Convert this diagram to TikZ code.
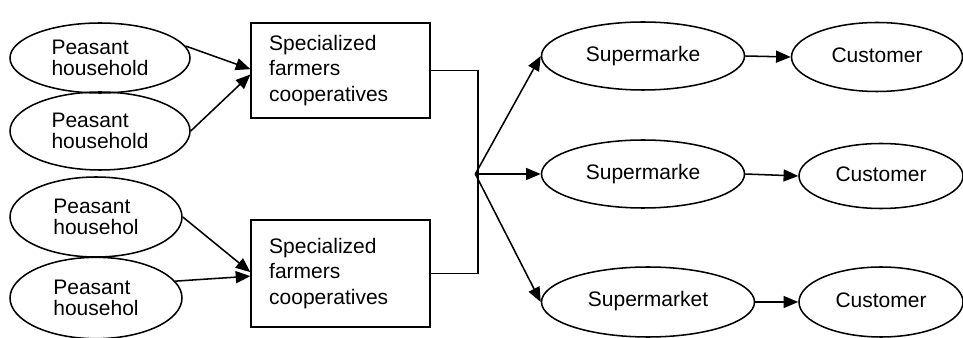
\documentclass[tikz,border=0pt]{standalone}
\usepackage{fontspec}
\setmainfont{Liberation Sans}
\usetikzlibrary{arrows.meta,shapes.geometric}

\begin{document}
\begin{tikzpicture}[x=0.75pt,y=-0.75pt,line width=1.15pt]

	\tikzstyle peasant node=[draw, ellipse, inner sep=0pt, align=left, font=\fontsize{15.75}{16.3}\selectfont];
	\tikzstyle coop node=[draw, rectangle, inner xsep=13.5pt, inner ysep=0pt, text width=107pt, align=left, font=\fontsize{15.75}{19}\selectfont];
	\tikzstyle market node=[draw, ellipse, inner sep=0pt, font=\fontsize{15.75}{16.3}\selectfont];
	\tikzstyle flow arrows=[-{Triangle[length=11pt,width=9pt]}];

	\useasboundingbox (0,0) rectangle (963,338);

	% peasant households
	\node[peasant node, minimum width=135pt, minimum height=52.5pt] (ph1) at (100,58) {Peasant\\household};
	\node[peasant node, minimum width=135pt, minimum height=58.5pt] (ph2) at (100,131) {Peasant\\household};
	\node[peasant node, minimum width=129pt, minimum height=60pt] (ph3) at (96,217) {Peasant\\househol};
	\node[peasant node, minimum width=129pt, minimum height=61pt] (ph4) at (96,298) {Peasant\\househol};

	% cooperatives
	\node[coop node, minimum height=71.25pt] (coop1) at (340.5,70.5) {Specialized\\farmers\\cooperatives};
	\node[coop node, minimum height=80.25pt] (coop2) at (340.5,273.5) {Specialized\\farmers\\cooperatives};

	% supermarkets and customers
	\node[market node, minimum width=152.25pt, minimum height=51pt] (sm1) at (643,56) {\raisebox{3pt}{Supermarke}};
	\node[market node, minimum width=152.25pt, minimum height=51pt] (sm2) at (643,174) {\raisebox{3pt}{Supermarke}};
	\node[market node, minimum width=159.75pt, minimum height=52.5pt] (sm3) at (648,302) {\raisebox{4pt}{Supermarket}};

	\node[market node, minimum width=128.25pt, minimum height=51.75pt] (cu1) at (877,57) {\raisebox{3pt}{Customer}};
	\node[market node, minimum width=123pt, minimum height=48.75pt] (cu2) at (881,176) {\raisebox{2pt}{Customer}};
	\node[market node, minimum width=123pt, minimum height=52.5pt] (cu3) at (881,302) {\raisebox{3pt}{Customer}};

	\coordinate (hub) at (478,174);

	\draw[flow arrows] (ph1.8) -- ([yshift=1pt]coop1.west);
	\draw[flow arrows] (ph2.east) -- ([yshift=-3pt]coop1.west);
	\draw[flow arrows] (ph3.east) -- ([yshift=1pt]coop2.west);
	\draw[flow arrows] (ph4.12) -- ([yshift=-2pt]coop2.west);

	\draw (coop1.east) -| (hub) |- (coop2.east);
		\foreach \s in {sm1,sm2,sm3}
			\draw[flow arrows] ([xshift=-2pt]hub) -- (\s.west);

	\foreach \s/\c in {sm1/cu1,sm2/cu2,sm3/cu3}
		\draw[flow arrows] (\s.east) -- (\c.west);

\end{tikzpicture}
\end{document}
